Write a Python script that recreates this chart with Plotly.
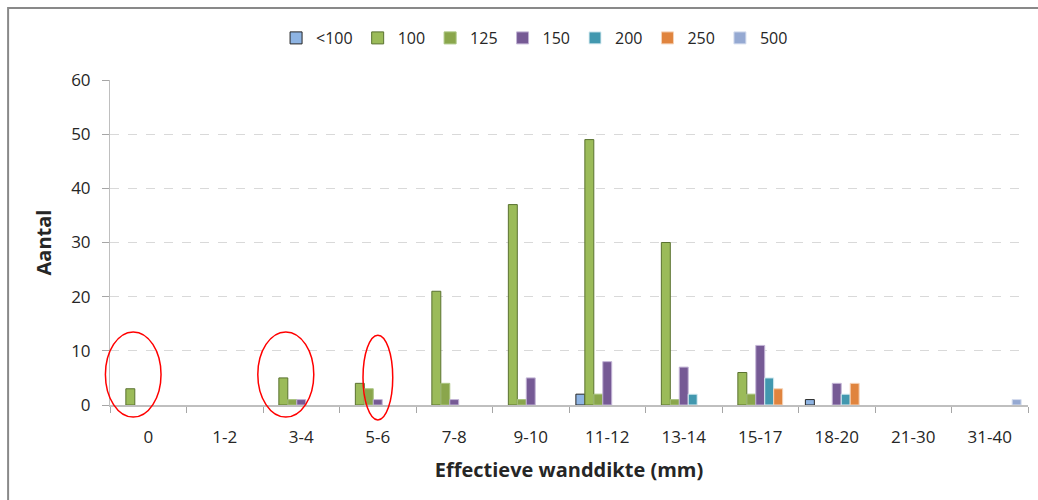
import plotly.graph_objects as go

categories = ["0", "1-2", "3-4", "5-6", "7-8", "9-10", "11-12", "13-14", "15-17", "18-20", "21-30", "31-40"]
series_names = ["<100", "100", "125", "150", "200", "250", "500"]
v_lt100 = [0, 0, 0, 0, 0, 0, 2, 0, 0, 1, 0, 0]
v_100 = [3, 0, 5, 4, 21, 37, 49, 30, 6, 0, 0, 0]
v_125 = [0, 0, 1, 3, 4, 1, 2, 1, 2, 0, 0, 0]
v_150 = [0, 0, 1, 1, 1, 5, 8, 7, 11, 4, 0, 0]
v_200 = [0, 0, 0, 0, 0, 0, 0, 2, 5, 2, 0, 0]
v_250 = [0, 0, 0, 0, 0, 0, 0, 0, 3, 4, 0, 0]
v_500 = [0, 0, 0, 0, 0, 0, 0, 0, 0, 0, 0, 1]
series_values = [v_lt100, v_100, v_125, v_150, v_200, v_250, v_500]

fills = ["#8EB4E3", "#9BBB59", "#8AA64C", "#765A95", "#4298AF", "#E0843E", "#95A9D2"]
borders = ["#262626", "#5A7230", "#A9C47F", "#C3B5D6", "#DCEEF3", "#F5D3B8", "#D5DDEE"]

FONT = "Open Sans"

fig = go.Figure()
for name, vals, fc, bc in zip(series_names, series_values, fills, borders):
    fig.add_trace(go.Bar(
        x=categories, y=[v if v else None for v in vals], name=name,
        marker=dict(color=fc, line=dict(color=bc, width=1)),
    ))

fig.update_layout(
    width=1038, height=500,
    margin=dict(l=110, r=10, t=80, b=95),
    paper_bgcolor="white", plot_bgcolor="white",
    barmode="group", bargap=0.18, bargroupgap=0,
    font=dict(family=FONT, size=17, color="#262626"),
    legend=dict(orientation="h", xref="container", yref="container",
                x=0.515, xanchor="center", y=0.924, yanchor="middle",
                font=dict(size=16), itemwidth=30, traceorder="normal"),
    xaxis=dict(
        type="category", tickson="boundaries", ticks="outside", ticklen=6,
        tickcolor="#A6A6A6", showline=True, linecolor="#BFBFBF", linewidth=2,
        showgrid=False, ticklabelstandoff=16,
        title=dict(text="<b>Effectieve wanddikte (mm)</b>", font=dict(size=20), standoff=16),
    ),
    yaxis=dict(
        range=[0, 60], dtick=10, ticks="outside", ticklen=7, tickcolor="#A6A6A6",
        showline=True, linecolor="#BFBFBF", linewidth=1, ticklabelstandoff=8,
        showgrid=True, gridcolor="#D9D9D9", griddash="dash", zeroline=False,
        title=dict(text="<b>Aantal</b>", font=dict(size=20), standoff=14),
    ),
    shapes=[
        dict(type="rect", xref="paper", yref="paper", x0=-0.111, x1=1.05, y0=-0.35, y1=1.2215,
             line=dict(color="#898989", width=2), layer="below"),
        dict(type="circle", xref="paper", yref="paper", x0=-0.005, x1=0.0556, y0=-0.037, y1=0.225,
             line=dict(color="#FF0000", width=1.5)),
        dict(type="circle", xref="paper", yref="paper", x0=0.161, x1=0.222, y0=-0.037, y1=0.225,
             line=dict(color="#FF0000", width=1.5)),
        dict(type="circle", xref="paper", yref="paper", x0=0.2756, x1=0.308, y0=-0.046, y1=0.215,
             line=dict(color="#FF0000", width=1.5)),
    ],
)

fig.write_html("out.html")
